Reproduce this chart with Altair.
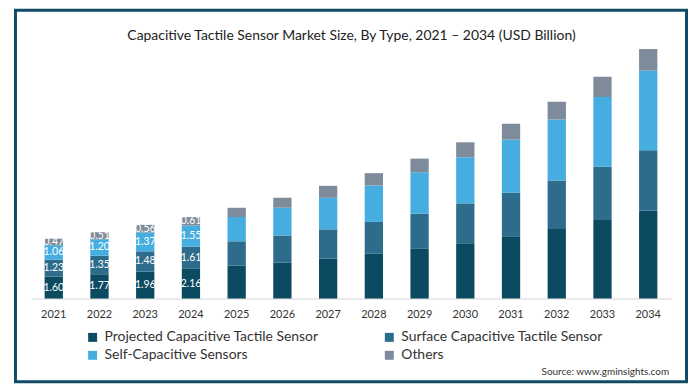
import altair as alt
import pandas as pd

years = [str(y) for y in range(2021, 2035)]
series = ["Projected Capacitive Tactile Sensor", "Surface Capacitive Tactile Sensor",
          "Self-Capacitive Sensors", "Others"]
projected = [1.60, 1.77, 1.96, 2.16, 2.39, 2.61, 2.92, 3.26, 3.62, 4.03, 4.54, 5.07, 5.72, 6.40]
surface   = [1.23, 1.35, 1.48, 1.61, 1.78, 1.98, 2.12, 2.32, 2.56, 2.90, 3.17, 3.52, 3.88, 4.40]
selfcap   = [1.06, 1.20, 1.37, 1.55, 1.77, 2.03, 2.30, 2.65, 3.02, 3.36, 3.86, 4.45, 5.07, 5.80]
others    = [0.47, 0.51, 0.56, 0.61, 0.67, 0.72, 0.87, 0.90, 0.99, 1.09, 1.16, 1.30, 1.48, 1.57]
labeled_years = ["2021", "2022", "2023", "2024"]
colors = ["#0c4a61", "#2e6c8c", "#46ade0", "#7e8b9b"]
title_text = "Capacitive Tactile Sensor Market Size, By Type, 2021 – 2034 (USD Billion)"
source_text = "Source: www.gminsights.com"

rows = []
for i, y in enumerate(years):
    for k, (name, vals) in enumerate(zip(series, [projected, surface, selfcap, others])):
        rows.append({"year": y, "type": name, "ord": k, "value": vals[i],
                     "lab": y in labeled_years})
df = pd.DataFrame(rows)

W, H = 643, 251
FONT = "Lato"

x_enc = alt.X("year:N", sort=years,
              scale=alt.Scale(paddingInner=0.6, paddingOuter=0.3),
              axis=alt.Axis(title=None, labelAngle=0, ticks=False, labelPadding=10,
                            labelFontSize=11, labelColor="#333333", labelFont=FONT,
                            domainColor="#e3e3e3", domainWidth=1.5))

bars = alt.Chart(df).mark_bar().encode(
    x=x_enc,
    y=alt.Y("value:Q", stack="zero", scale=alt.Scale(domain=[0, 18.2], nice=False), axis=None),
    color=alt.Color("type:N", sort=series,
                    scale=alt.Scale(domain=series, range=colors),
                    legend=alt.Legend(title=None, orient="none", legendX=55, legendY=283,
                                      direction="horizontal",
                                      columns=2, columnPadding=63, rowPadding=4,
                                      symbolType="square", symbolSize=81, symbolStrokeWidth=0,
                                      labelFontSize=14, labelFont=FONT, labelColor="#333333",
                                      labelLimit=400, labelOffset=5, symbolOffset=0)),
    order=alt.Order("ord:Q", sort="ascending"),
)

labels = alt.Chart(df).transform_filter(
    alt.datum.lab
).transform_stack(
    stack="value", groupby=["year"], as_=["v0", "v1"],
    sort=[alt.SortField("ord", order="ascending")]
).transform_calculate(
    mid="(datum.v0 + datum.v1) / 2"
).mark_text(color="white", fontSize=10.5, font=FONT, baseline="middle").encode(
    x=alt.X("year:N", sort=years),
    y=alt.Y("mid:Q"),
    text=alt.Text("value:Q", format=".2f"),
)

frame = alt.Chart(pd.DataFrame({"a": [0]})).mark_rect(
    fill="transparent", stroke="#0f4b66", strokeWidth=3
).encode(
    x=alt.value(-15.5), x2=alt.value(658.5), y=alt.value(-38.5), y2=alt.value(334.5)
)

title = alt.Chart(pd.DataFrame({"t": [title_text]})).mark_text(
    align="center", baseline="middle", fontSize=14, font=FONT, color="#222222"
).encode(x=alt.value(322), y=alt.value(-13), text="t:N")

source = alt.Chart(pd.DataFrame({"t": [source_text]})).mark_text(
    align="right", baseline="middle", fontSize=10, font=FONT, color="#333333"
).encode(x=alt.value(641), y=alt.value(325), text="t:N")

chart = alt.layer(bars, labels, frame, title, source).properties(
    width=W, height=H,
    padding={"left": 6, "top": 0, "right": 0, "bottom": 0},
).configure(background="white").configure_view(stroke=None, strokeWidth=0)

chart.save("out.html", embed_options={"renderer": "svg", "actions": False})
